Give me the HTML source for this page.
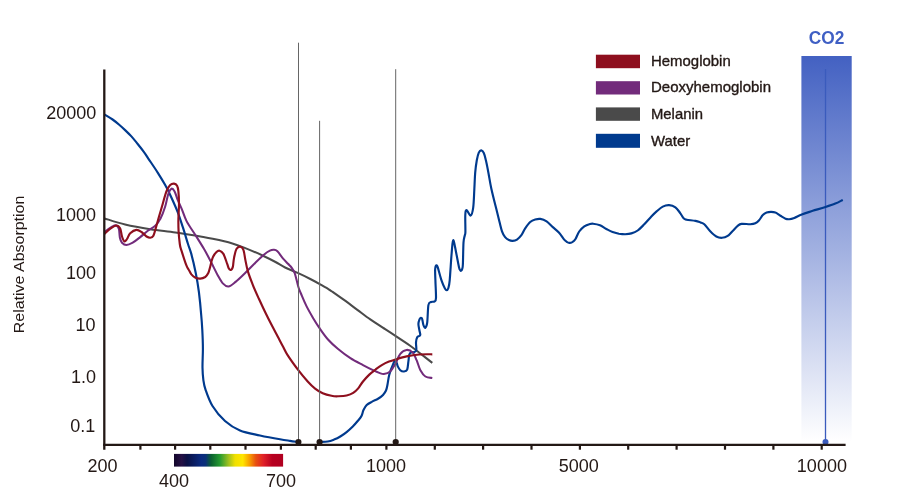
<!DOCTYPE html>
<html><head><meta charset="utf-8"><title>Relative Absorption</title>
<style>
html,body{margin:0;padding:0;background:#fff;}
body{width:907px;height:490px;overflow:hidden;}
svg{display:block;}
text{font-family:"Liberation Sans",sans-serif;fill:#231815;}
.ax{font-size:18px;}
.lg{font-size:14.4px;stroke:#231815;stroke-width:0.35px;}
</style></head><body>
<svg width="907" height="490" viewBox="0 0 907 490">
<defs>
<linearGradient id="co2" x1="0" y1="0" x2="0" y2="1">
<stop offset="0" stop-color="#4361c2"/><stop offset="1" stop-color="#ffffff"/>
</linearGradient>
<linearGradient id="spec" x1="0" y1="0" x2="1" y2="0">
<stop offset="0" stop-color="#12062a"/>
<stop offset="0.07" stop-color="#251045"/>
<stop offset="0.12" stop-color="#0a1045"/>
<stop offset="0.25" stop-color="#0a2a80"/>
<stop offset="0.29" stop-color="#0a3078"/>
<stop offset="0.34" stop-color="#0a6030"/>
<stop offset="0.42" stop-color="#259a30"/>
<stop offset="0.50" stop-color="#9fc020"/>
<stop offset="0.56" stop-color="#f0e000"/>
<stop offset="0.63" stop-color="#ffe600"/>
<stop offset="0.69" stop-color="#f8a000"/>
<stop offset="0.75" stop-color="#e85010"/>
<stop offset="0.82" stop-color="#e02028"/>
<stop offset="0.90" stop-color="#b80020"/>
<stop offset="1" stop-color="#b00020"/>
</linearGradient>
</defs>
<rect x="801.4" y="56" width="50.3" height="386" fill="url(#co2)"/>
<line x1="825.5" y1="69" x2="825.5" y2="442" stroke="#3a5bbd" stroke-width="1.3"/>
<text x="808.8" y="44.2" textLength="35.6" lengthAdjust="spacingAndGlyphs" style="font-size:17.6px;font-weight:bold;fill:#3f5fc4">CO2</text>
<g fill="none" stroke-width="2.05" stroke-linecap="butt" stroke-linejoin="round">
<path stroke="#4a4a4a" d="M104.5 218.4C107.9 219.4 117.5 222.7 125.1 224.5C132.7 226.3 141.9 227.9 150.3 229.2C158.7 230.5 167.0 231.2 175.4 232.4C183.8 233.6 194.3 235.4 200.5 236.5C206.7 237.6 207.5 237.7 212.7 238.8C217.9 239.9 226.4 241.7 231.6 243.2C236.8 244.7 238.9 245.5 244.1 247.6C249.3 249.7 257.8 253.3 263.0 255.7C268.2 258.1 271.8 260.0 275.5 262.0C279.2 264.0 281.4 265.7 285.1 267.5C288.8 269.3 293.5 271.0 297.7 272.9C301.9 274.8 306.6 277.1 310.3 279.0C314.0 280.9 316.6 282.3 319.7 284.1C322.8 285.9 327.0 288.3 329.1 289.6C331.2 290.9 329.9 290.0 332.6 291.9C335.3 293.8 340.9 297.7 345.1 300.7C349.3 303.7 353.5 307.0 357.7 310.1C361.9 313.2 366.1 316.5 370.3 319.4C374.5 322.3 378.6 324.9 382.8 327.7C387.0 330.4 390.8 332.8 395.4 335.9C400.0 338.9 406.4 343.1 410.5 346.0C414.6 348.9 416.4 350.5 420.0 353.3C423.6 356.1 430.2 361.3 432.3 362.9"/>
<path stroke="#003a8e" stroke-width="2.15" d="M104.3 114.3C105.7 115.2 110.2 117.8 112.6 119.5C115.0 121.2 116.8 122.7 118.9 124.5C121.0 126.3 123.0 128.1 125.1 130.1C127.2 132.1 129.3 134.1 131.4 136.4C133.5 138.7 135.6 141.4 137.7 144.0C139.8 146.6 142.0 149.4 144.0 152.1C146.0 154.8 147.2 156.9 149.5 160.3C151.8 163.7 155.1 168.5 157.7 172.6C160.3 176.7 162.9 180.9 165.2 185.1C167.5 189.3 169.4 193.1 171.5 197.7C173.6 202.3 176.0 207.6 177.9 212.6C179.8 217.6 181.3 222.5 183.0 227.7C184.7 232.9 186.6 239.6 188.0 244.0C189.4 248.4 190.0 249.1 191.3 253.9C192.6 258.7 194.4 266.3 195.7 272.7C197.0 279.1 198.0 284.9 198.9 292.0C199.8 299.1 200.7 308.7 201.2 315.0C201.8 321.3 202.0 324.4 202.3 330.0C202.6 335.6 202.9 342.6 202.9 348.9C202.9 355.2 202.4 362.5 202.5 367.7C202.6 372.9 202.9 376.6 203.4 380.3C203.9 384.0 204.1 385.5 205.6 389.8C207.1 394.1 209.3 400.8 212.5 406.0C215.7 411.2 220.4 416.9 225.0 421.0C229.6 425.1 234.2 428.1 240.0 430.5C245.8 432.9 253.3 434.0 260.0 435.5C266.7 437.0 275.0 438.4 280.0 439.2C285.0 440.1 287.0 440.4 290.0 440.9C293.0 441.4 296.8 441.8 298.2 442.0M319.8 442.0C321.1 441.9 325.3 441.9 327.7 441.5C330.1 441.1 331.9 440.4 334.0 439.6C336.1 438.8 338.2 437.8 340.3 436.5C342.4 435.2 344.5 433.8 346.6 432.1C348.7 430.4 350.9 428.4 352.8 426.5C354.7 424.6 356.4 422.6 357.9 420.8C359.4 419.0 360.7 417.6 361.6 415.8C362.5 414.0 362.6 411.9 363.5 410.1C364.4 408.3 365.3 406.5 366.7 405.1C368.1 403.7 369.8 402.9 371.7 401.9C373.6 400.8 376.1 399.9 378.0 398.8C379.9 397.7 381.7 396.4 383.0 395.0C384.3 393.6 385.2 392.3 386.0 390.5C386.8 388.7 387.1 386.6 387.6 384.0C388.1 381.4 388.4 378.1 389.2 375.0C390.0 371.9 391.6 367.7 392.7 365.2C393.8 362.7 394.6 360.0 395.5 360.2C396.4 360.4 397.0 364.7 397.8 366.4C398.6 368.1 399.3 369.3 400.3 370.2C401.3 371.1 402.9 371.6 404.0 371.5C405.1 371.4 406.5 371.3 407.2 369.6C407.9 367.9 408.0 363.9 408.4 361.4C408.8 358.9 408.8 356.0 409.3 354.5C409.8 353.0 410.7 352.6 411.5 352.2C412.3 351.8 413.2 352.5 414.0 352.2C414.8 351.9 416.0 351.7 416.3 350.1C416.6 348.5 415.9 344.8 416.0 342.6C416.1 340.5 416.6 338.3 417.2 337.2C417.8 336.1 418.8 336.4 419.3 336.0C419.8 335.6 420.3 335.6 420.3 334.6C420.3 333.7 419.7 332.1 419.4 330.3C419.1 328.5 418.4 325.8 418.4 324.0C418.4 322.2 419.1 320.3 419.5 319.3C419.9 318.3 420.2 318.2 420.5 318.0C420.8 317.8 421.1 317.6 421.4 317.9C421.7 318.1 422.0 318.3 422.3 319.5C422.6 320.7 422.9 323.6 423.4 325.0C423.9 326.4 424.7 328.2 425.3 327.8C425.9 327.4 426.7 326.5 427.2 322.7C427.7 318.9 427.8 308.6 428.4 305.1C429.0 301.7 430.0 302.6 431.0 302.0C432.0 301.4 433.8 302.1 434.6 301.4C435.4 300.7 435.9 301.2 436.0 297.6C436.1 294.0 435.5 284.6 435.4 280.0C435.2 275.4 435.1 272.3 435.1 270.0C435.2 267.7 435.4 267.2 435.7 266.4C435.9 265.6 436.2 265.1 436.6 265.3C437.0 265.5 437.0 264.9 437.8 267.4C438.6 269.9 440.3 276.8 441.5 280.3C442.7 283.8 443.9 286.6 444.8 288.2C445.7 289.8 446.0 290.2 446.6 290.2C447.2 290.2 447.8 289.8 448.3 288.2C448.8 286.6 449.2 285.8 449.7 280.3C450.2 274.8 451.0 261.1 451.5 255.0C452.0 248.9 452.2 246.1 452.5 243.6C452.8 241.1 453.1 240.1 453.4 240.1C453.7 240.1 453.9 241.1 454.4 243.6C454.9 246.1 455.8 251.1 456.6 255.0C457.4 258.9 458.4 264.7 459.0 267.2C459.6 269.7 459.8 269.5 460.2 270.1C460.6 270.7 460.9 270.9 461.2 270.7C461.5 270.5 461.9 270.1 462.2 269.0C462.5 267.9 462.7 268.4 462.9 264.0C463.1 259.6 463.2 247.3 463.5 242.6C463.8 237.9 464.4 237.5 464.7 235.7C465.0 233.9 465.3 235.4 465.4 232.0C465.5 228.6 465.1 218.7 465.3 215.0C465.5 211.3 465.7 209.9 466.6 210.0C467.5 210.1 469.5 216.0 470.6 215.6C471.7 215.2 472.6 211.9 473.2 207.6C473.8 203.3 474.0 195.8 474.3 190.0C474.6 184.2 474.8 177.6 475.2 172.7C475.6 167.8 476.2 163.7 476.8 160.3C477.4 157.0 478.1 154.2 478.8 152.6C479.6 150.9 480.5 150.3 481.3 150.4C482.1 150.5 483.0 151.3 483.8 153.0C484.6 154.7 485.1 157.0 485.9 160.3C486.7 163.6 487.5 168.0 488.4 172.7C489.3 177.4 490.1 183.0 491.3 188.5C492.5 194.0 494.1 200.3 495.5 205.8C496.9 211.3 498.3 217.2 499.4 221.4C500.5 225.7 501.1 228.7 502.0 231.3C502.9 233.9 504.0 235.7 505.1 237.1C506.2 238.5 507.6 239.4 508.9 240.0C510.1 240.6 511.2 241.0 512.6 240.9C514.0 240.8 515.5 240.6 517.0 239.6C518.5 238.6 520.0 237.1 521.4 235.2C522.8 233.3 523.7 230.5 525.2 228.3C526.7 226.1 528.5 223.5 530.2 222.0C531.9 220.5 533.5 220.0 535.2 219.5C536.9 219.0 538.4 218.6 540.3 218.9C542.2 219.2 544.5 220.0 546.6 221.4C548.7 222.8 550.7 225.2 552.8 227.1C554.9 229.0 557.2 230.6 559.1 232.7C561.0 234.8 562.9 238.1 564.2 239.6C565.5 241.1 565.9 241.3 566.7 241.8C567.5 242.3 568.3 242.8 569.2 242.8C570.1 242.9 571.2 242.7 572.3 242.1C573.3 241.5 574.4 240.8 575.5 239.0C576.6 237.2 577.7 233.6 579.2 231.5C580.7 229.4 582.6 227.6 584.3 226.4C586.0 225.2 587.8 224.6 589.3 224.2C590.8 223.8 591.3 223.5 593.1 223.7C594.9 223.9 597.8 224.4 600.0 225.3C602.2 226.2 604.2 227.9 606.3 229.0C608.4 230.1 610.5 231.3 612.6 232.1C614.7 232.9 616.8 233.3 618.9 233.7C621.0 234.0 623.0 234.2 625.1 234.2C627.2 234.1 629.3 234.0 631.4 233.4C633.5 232.8 635.6 232.0 637.7 230.5C639.8 229.0 641.9 226.7 644.0 224.6C646.1 222.5 648.2 219.9 650.3 217.7C652.4 215.5 654.5 213.2 656.6 211.4C658.7 209.6 660.7 207.7 662.8 206.6C664.9 205.5 667.0 205.0 669.1 205.1C671.2 205.2 673.5 205.9 675.4 207.3C677.3 208.7 679.0 211.5 680.4 213.3C681.8 215.1 682.5 217.2 683.6 218.3C684.7 219.4 684.7 219.3 686.7 219.7C688.7 220.1 693.2 220.4 695.5 220.9C697.8 221.4 699.0 221.9 700.5 222.4C702.0 222.9 702.7 222.8 704.3 224.2C705.9 225.6 708.0 228.9 710.0 231.0C712.0 233.1 714.3 235.4 716.3 236.5C718.3 237.6 720.1 237.9 722.0 237.8C723.9 237.7 725.9 237.1 727.7 235.9C729.5 234.8 731.0 232.6 732.7 230.9C734.4 229.2 736.2 227.0 737.7 225.8C739.2 224.6 739.4 224.2 741.5 223.9C743.6 223.6 748.0 224.3 750.3 224.2C752.6 224.1 753.8 224.0 755.3 223.3C756.8 222.6 757.9 221.6 759.1 220.2C760.4 218.8 761.5 216.4 762.8 215.1C764.0 213.8 765.2 213.1 766.6 212.6C768.0 212.1 769.5 211.9 771.0 211.9C772.5 211.9 773.8 211.9 775.4 212.6C777.0 213.2 778.7 214.8 780.4 215.8C782.1 216.8 784.0 218.1 785.5 218.7C787.0 219.3 787.7 219.3 789.2 219.2C790.7 219.1 792.2 218.7 794.3 217.9C796.4 217.1 798.7 215.7 801.8 214.5C804.9 213.3 808.8 212.1 812.7 210.8C816.7 209.6 821.7 208.2 825.5 207.0C829.3 205.8 832.4 204.8 835.3 203.6C838.2 202.4 841.5 200.5 842.8 199.9"/>
<path stroke="#722b7b" d="M104.5 232.0C105.8 231.1 110.6 227.5 112.6 226.4C114.6 225.3 115.2 225.1 116.3 225.5C117.3 225.9 118.3 226.9 118.9 228.9C119.5 230.9 119.4 235.4 119.9 237.7C120.4 240.0 120.9 241.5 122.0 242.7C123.1 243.9 124.6 245.0 126.4 245.0C128.2 245.0 130.4 244.0 132.7 242.7C135.0 241.4 137.7 239.1 140.2 237.1C142.7 235.1 145.3 232.7 147.8 230.8C150.3 228.9 153.2 227.8 155.3 225.8C157.4 223.8 158.7 222.1 160.3 218.9C162.0 215.7 163.9 210.7 165.2 206.5C166.5 202.3 167.2 197.0 168.3 194.0C169.4 191.0 170.4 189.1 171.5 188.7C172.6 188.3 173.5 189.5 174.6 191.4C175.7 193.3 176.6 197.3 177.8 200.2C179.0 203.1 180.2 205.3 181.7 208.8C183.2 212.3 184.4 217.0 186.7 221.4C189.0 225.8 192.6 230.6 195.5 235.2C198.4 239.8 201.2 244.2 203.9 248.8C206.6 253.4 209.1 258.3 211.4 262.7C213.7 267.1 215.8 271.8 217.7 275.2C219.6 278.6 221.0 281.5 222.8 283.4C224.6 285.3 226.3 286.7 228.4 286.5C230.5 286.3 232.5 284.4 235.3 282.1C238.1 279.8 242.1 275.9 245.4 272.7C248.8 269.5 252.3 265.7 255.4 262.7C258.5 259.7 261.8 256.5 264.2 254.5C266.6 252.5 268.3 251.5 269.9 250.7C271.5 249.9 272.4 249.7 273.7 249.8C274.9 249.9 275.8 249.8 277.4 251.3C279.0 252.8 281.3 256.5 283.1 258.6C284.9 260.7 286.6 262.3 288.0 263.8C289.4 265.3 290.5 266.1 291.6 267.6C292.7 269.1 293.8 270.8 294.6 272.9C295.4 275.0 295.9 277.5 296.6 280.0C297.3 282.5 297.8 285.4 298.7 288.0C299.6 290.6 300.5 292.5 301.8 295.6C303.1 298.7 304.8 302.7 306.6 306.4C308.5 310.1 310.8 314.1 312.9 317.7C315.0 321.2 316.7 324.1 319.2 327.7C321.7 331.3 324.9 336.0 328.0 339.5C331.1 343.0 334.1 345.7 337.8 348.8C341.5 351.9 346.2 355.5 350.4 358.2C354.6 360.9 359.2 363.1 363.0 365.1C366.8 367.1 370.3 368.9 373.0 370.2C375.7 371.5 377.5 372.3 379.3 372.9C381.1 373.5 382.1 374.2 383.9 374.0C385.7 373.8 388.3 373.2 390.2 371.5C392.1 369.8 393.5 366.9 395.2 364.0C396.9 361.1 398.4 356.2 400.3 353.9C402.2 351.5 404.5 350.1 406.6 349.9C408.7 349.7 411.1 350.9 412.8 352.6C414.5 354.3 415.3 357.3 416.6 360.2C417.9 363.1 418.9 367.5 420.4 370.2C421.9 372.9 423.4 375.2 425.4 376.5C427.4 377.8 431.1 377.8 432.3 378.0"/>
<path stroke="#8e0f1e" stroke-width="2.15" d="M104.5 233.9C105.4 233.1 108.0 230.3 110.0 228.9C112.0 227.5 114.6 225.6 116.3 225.5C118.0 225.4 119.1 226.5 120.1 228.3C121.0 230.1 121.3 234.3 122.0 236.5C122.7 238.7 123.7 241.1 124.5 241.5C125.3 241.9 126.0 240.4 127.0 239.0C128.0 237.6 128.6 234.8 130.2 233.3C131.8 231.8 134.5 230.1 136.4 229.9C138.3 229.7 139.8 230.9 141.5 232.0C143.2 233.1 145.0 235.6 146.5 236.5C148.0 237.4 149.2 237.8 150.3 237.7C151.5 237.6 152.5 237.5 153.4 235.8C154.3 234.1 155.0 230.9 155.9 227.7C156.8 224.4 158.0 220.2 159.1 216.3C160.2 212.4 161.5 208.2 162.7 204.0C163.9 199.8 165.2 194.6 166.4 191.4C167.7 188.2 168.9 186.4 170.2 185.1C171.5 183.8 172.8 183.5 174.0 183.6C175.2 183.7 176.4 184.5 177.1 185.8C177.8 187.1 178.1 188.4 178.4 191.4C178.7 194.4 179.0 199.4 179.0 204.0C179.0 208.6 178.5 214.3 178.4 218.9C178.3 223.5 178.4 227.2 178.6 231.4C178.8 235.6 179.4 240.9 179.8 244.0C180.2 247.1 180.2 246.6 181.3 250.1C182.4 253.6 185.0 261.9 186.3 265.2C187.6 268.5 188.1 268.5 188.9 270.0C189.8 271.5 190.4 273.1 191.4 274.4C192.4 275.6 193.6 276.8 195.1 277.5C196.6 278.2 198.5 278.7 200.2 278.6C201.9 278.5 203.8 277.9 205.2 277.0C206.5 276.1 207.5 274.7 208.3 273.1C209.1 271.5 209.3 270.1 210.0 267.5C210.7 264.9 211.6 260.2 212.7 257.6C213.8 255.0 215.3 253.2 216.5 252.0C217.7 250.8 218.4 250.4 219.6 250.7C220.8 251.0 222.1 251.7 223.4 253.9C224.7 256.1 226.3 261.5 227.2 263.9C228.1 266.3 228.2 267.3 228.7 268.3C229.2 269.3 229.8 269.9 230.4 270.0C231.0 270.1 231.6 269.6 232.0 268.9C232.4 268.2 232.7 267.9 233.0 266.0C233.3 264.1 233.5 260.5 234.1 257.6C234.7 254.7 235.5 250.6 236.6 248.8C237.7 247.0 239.2 246.5 240.4 246.7C241.6 246.9 242.7 247.9 243.5 250.1C244.3 252.3 244.7 256.6 245.4 260.1C246.1 263.7 246.7 267.3 247.9 271.4C249.1 275.5 250.9 280.0 252.7 284.6C254.5 289.2 256.8 294.2 258.9 298.8C261.0 303.4 263.0 307.7 265.1 312.0C267.2 316.3 269.3 320.5 271.4 324.6C273.5 328.7 275.8 332.9 277.7 336.5C279.6 340.1 281.0 342.9 282.7 346.0C284.4 349.1 285.0 351.1 287.6 355.1C290.2 359.1 295.0 365.8 298.3 370.2C301.6 374.6 304.9 378.4 307.7 381.5C310.5 384.6 312.6 386.7 315.1 388.6C317.6 390.6 320.0 392.0 322.7 393.2C325.4 394.4 329.0 395.3 331.5 395.8C334.0 396.3 335.3 396.4 337.8 396.3C340.3 396.2 344.0 396.1 346.6 395.5C349.2 394.9 351.3 394.1 353.2 392.9C355.1 391.7 356.6 390.3 358.2 388.4C359.8 386.5 361.1 383.8 363.0 381.5C364.9 379.2 367.2 376.6 369.3 374.6C371.4 372.6 373.5 371.1 375.6 369.5C377.7 367.9 379.6 366.4 381.8 365.1C384.0 363.8 386.7 362.5 389.0 361.6C391.3 360.7 392.6 360.4 395.5 359.5C398.4 358.6 402.7 357.2 406.6 356.4C410.5 355.6 414.8 354.9 419.1 354.5C423.4 354.1 430.1 354.3 432.3 354.3"/>
</g>
<g stroke="#666" stroke-width="1">
<line x1="298.5" y1="42.7" x2="298.5" y2="442"/>
<line x1="319.6" y1="120.8" x2="319.6" y2="442"/>
<line x1="395.7" y1="69.2" x2="395.7" y2="442"/>
</g>
<g fill="#231815"><circle cx="298.4" cy="442" r="3.1"/><circle cx="319.6" cy="442" r="3.1"/><circle cx="395.7" cy="442" r="3.1"/></g>
<circle cx="825.5" cy="442" r="3" fill="#3a5bbd"/>
<g stroke="#231815" stroke-width="2.3">
<line x1="104.3" y1="69.4" x2="104.3" y2="449.7"/>
<line x1="103.15" y1="444.8" x2="845.6" y2="444.8"/>
</g>
<g stroke="#231815" stroke-width="2.2"><line x1="140.4" y1="445" x2="140.4" y2="449.7"/><line x1="175.1" y1="445" x2="175.1" y2="449.7"/><line x1="210.3" y1="445" x2="210.3" y2="449.7"/><line x1="245.5" y1="445" x2="245.5" y2="449.7"/><line x1="280.9" y1="445" x2="280.9" y2="449.7"/><line x1="315.7" y1="445" x2="315.7" y2="449.7"/><line x1="350.9" y1="445" x2="350.9" y2="449.7"/><line x1="386.4" y1="445" x2="386.4" y2="449.7"/><line x1="434.8" y1="445" x2="434.8" y2="449.7"/><line x1="483.1" y1="445" x2="483.1" y2="449.7"/><line x1="531.5" y1="445" x2="531.5" y2="449.7"/><line x1="579.9" y1="445" x2="579.9" y2="449.7"/><line x1="628.2" y1="445" x2="628.2" y2="449.7"/><line x1="676.6" y1="445" x2="676.6" y2="449.7"/><line x1="725.0" y1="445" x2="725.0" y2="449.7"/><line x1="773.4" y1="445" x2="773.4" y2="449.7"/><line x1="821.7" y1="445" x2="821.7" y2="449.7"/></g>
<rect x="174" y="453.9" width="109.1" height="12.7" fill="url(#spec)"/>
<g class="ax" text-anchor="end">
<text x="96.3" y="119.2">20000</text>
<text x="96" y="221.1">1000</text>
<text x="96" y="278.9">100</text>
<text x="95.6" y="330.7">10</text>
<text x="96" y="382.9">1.0</text>
<text x="95.4" y="431.9">0.1</text>
</g>
<g class="ax" text-anchor="middle">
<text x="102.4" y="472.1">200</text>
<text x="174" y="487.4">400</text>
<text x="281" y="487.4">700</text>
<text x="386.1" y="472.1">1000</text>
<text x="578.8" y="472.1">5000</text>
<text x="821.9" y="472.1">10000</text>
</g>
<text transform="translate(24.4 333.2) rotate(-90)" style="font-size:15px" textLength="137.5" lengthAdjust="spacingAndGlyphs">Relative Absorption</text>
<rect x="595.9" y="54.7" width="44.1" height="13.5" fill="#8e0f1e"/>
<rect x="595.9" y="81.2" width="44.1" height="13.3" fill="#722b7b"/>
<rect x="595.9" y="107.4" width="44.1" height="13.4" fill="#4a4a4a"/>
<rect x="595.9" y="133.8" width="44.1" height="14" fill="#003a8e"/>
<g class="lg">
<text x="651" y="65.8" textLength="79.7" lengthAdjust="spacingAndGlyphs">Hemoglobin</text>
<text x="651" y="92.3" textLength="120" lengthAdjust="spacingAndGlyphs">Deoxyhemoglobin</text>
<text x="651" y="119" textLength="52" lengthAdjust="spacingAndGlyphs">Melanin</text>
<text x="651" y="145.5" textLength="39.2" lengthAdjust="spacingAndGlyphs">Water</text>
</g>
</svg>
</body></html>
